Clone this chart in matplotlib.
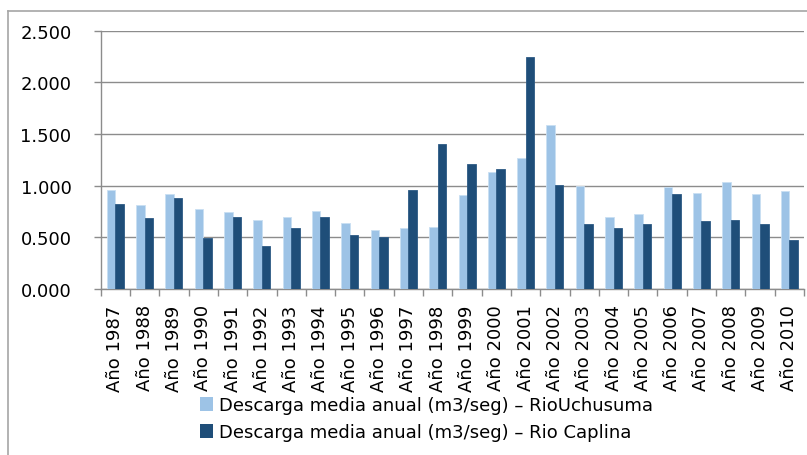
import matplotlib
matplotlib.use("Agg")
import matplotlib.pyplot as plt
from matplotlib.lines import Line2D
from matplotlib.ticker import FuncFormatter, FixedLocator
import numpy as np

years = list(range(1987, 2011))
labels = [f"Año {y}" for y in years]
uchusuma = [0.958, 0.814, 0.924, 0.778, 0.749, 0.665, 0.698, 0.756, 0.636, 0.569,
            0.590, 0.603, 0.913, 1.136, 1.271, 1.584, 1.000, 0.700, 0.723, 0.984,
            0.932, 1.039, 0.919, 0.948]
caplina = [0.826, 0.691, 0.879, 0.497, 0.694, 0.417, 0.591, 0.698, 0.526, 0.504,
           0.958, 1.407, 1.207, 1.161, 2.245, 1.010, 0.626, 0.587, 0.626, 0.919,
           0.658, 0.668, 0.626, 0.471]
series_names = ["Descarga media anual (m3/seg) – RioUchusuma",
                "Descarga media anual (m3/seg) – Rio Caplina"]

light = "#9DC3E6"
dark = "#1F4E79"
grey = "#8C8C8C"
FS = 13

fig = plt.figure(figsize=(8.07, 4.56), dpi=100)
ax = fig.add_axes([0.1248, 0.364, 0.8715, 0.5665])

x = np.arange(len(years))
w = 0.29
b1 = ax.bar(x - w / 2, uchusuma, width=w, color=light, edgecolor="#C9DFF2",
            linewidth=0.6, zorder=3, label=series_names[0])
b2 = ax.bar(x + w / 2, caplina, width=w, color=dark, edgecolor="#2C5A85",
            linewidth=0.6, zorder=3, label=series_names[1])

ax.set_xlim(-0.5, len(years) - 0.5)
ax.set_ylim(0, 2.5)
ax.set_yticks(np.arange(0, 2.51, 0.5))
ax.yaxis.set_major_formatter(FuncFormatter(lambda v, p: f"{v:.3f}"))
ax.yaxis.grid(True, color=grey, linewidth=1.0, zorder=0)
ax.set_axisbelow(True)

ax.set_xticks(x)
ax.set_xticklabels(labels, rotation=90, fontsize=FS)
ax.xaxis.set_minor_locator(FixedLocator(np.arange(-0.5, len(years), 1.0)))
ax.tick_params(axis="x", which="major", length=0, pad=11)
ax.tick_params(axis="x", which="minor", length=5, color=grey, width=1)
ax.tick_params(axis="y", length=5, color=grey, width=1, labelsize=FS, pad=16)

for side in ("top", "right"):
    ax.spines[side].set_visible(False)
for side in ("left", "bottom"):
    ax.spines[side].set_color(grey)
    ax.spines[side].set_linewidth(1.0)

leg = fig.legend(handles=[b1, b2], labels=series_names, loc="upper left",
                 bbox_to_anchor=(200 / 807, 1 - 397 / 456), bbox_transform=fig.transFigure,
                 frameon=False, fontsize=FS, handlelength=0.7, handleheight=0.8,
                 handletextpad=0.37, labelspacing=0.5, borderpad=0, borderaxespad=0)
for h in leg.legend_handles:
    h.set_linewidth(0)

# outer frame (top and left edges)
fig.add_artist(Line2D([8 / 807, 8 / 807], [0, 1 - 12 / 456], color="#A6A6A6",
                      linewidth=1.2, transform=fig.transFigure))
fig.add_artist(Line2D([8 / 807, 1], [1 - 12 / 456, 1 - 12 / 456], color="#A6A6A6",
                      linewidth=1.2, transform=fig.transFigure))

fig.savefig("out.png", dpi=100)
